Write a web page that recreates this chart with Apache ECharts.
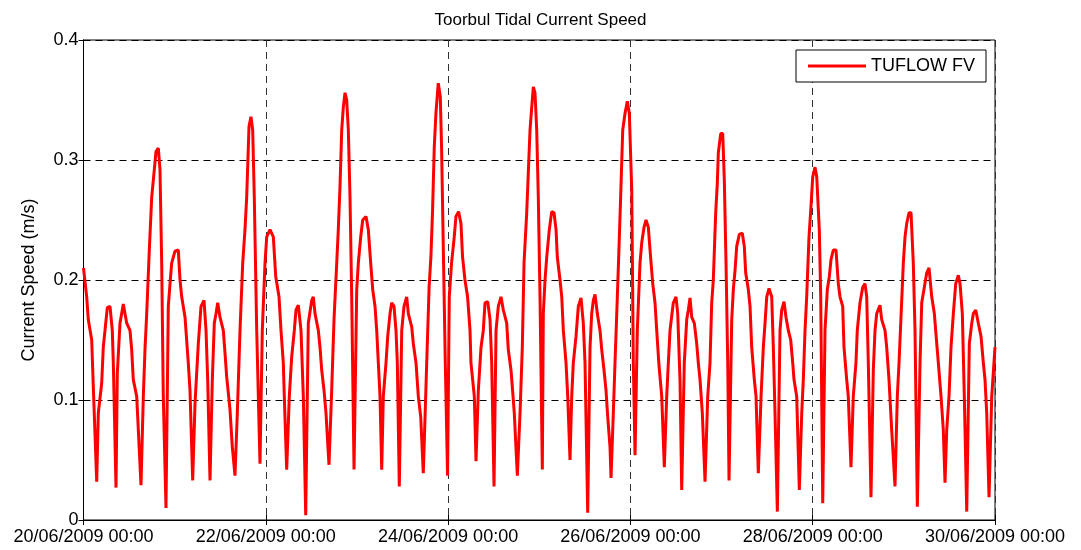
<!DOCTYPE html>
<html>
<head>
<meta charset="utf-8">
<script src="https://cdn.jsdelivr.net/npm/echarts@6/dist/echarts.min.js"></script>
<style>
html,body{margin:0;padding:0;background:#fff;}
#chart{width:1081px;height:550px;}
</style>
</head>
<body>
<div id="chart"></div>
<script>
// Hours since 20/06/2009 00:00
var timeHours = [
0,0.84,1.26,2.16,2.58,3.48,3.90,4.79,5.21,5.66,6.27,6.98,7.58,7.85,8.56,8.90,9.61,10.48,11.38,12.24,12.69,13.11,14.01,15.14,15.75,16.19,16.64,17.33,17.96,18.56,19.09,19.70,20.14,20.59,21.01,21.72,22.33,22.78,23.22,24.09,24.96,25.41,25.86,26.73,27.59,28.04,28.75,29.36,30.23,30.94,31.73,32.26,32.70,33.31,33.92,34.44,34.89,35.34,35.94,36.81,37.26,37.71,38.57,39.18,39.89,40.50,41.21,41.92,42.52,42.97,43.58,44.10,44.55,44.97,45.61,46.47,47.08,47.79,48.24,49.11,49.98,50.61,51.48,52.00,52.61,52.87,53.50,54.19,54.82,55.51,55.95,56.56,57.27,57.88,58.51,59.19,60.09,60.51,60.96,61.83,62.27,62.72,63.33,63.85,64.64,65.35,65.96,66.67,67.09,67.54,67.99,68.41,68.86,69.30,69.73,70.17,70.62,71.23,71.94,72.36,72.99,73.52,74.39,74.99,75.62,76.15,76.76,77.20,77.63,78.07,78.52,78.94,79.65,80.10,80.71,81.15,81.76,82.28,82.63,83.15,83.79,84.39,85.10,85.53,86.42,86.84,87.55,88.16,88.79,89.47,90.37,91.01,91.47,91.91,92.36,92.80,93.41,93.94,94.28,94.81,95.26,95.86,96.31,96.91,97.62,98.07,98.76,99.39,99.81,100.44,101.13,101.77,102.02,102.90,103.35,103.96,104.67,105.27,105.72,106.43,107.04,107.48,108.09,108.62,109.22,109.93,110.54,111.43,111.85,112.56,112.91,113.43,114.23,114.94,115.54,115.99,116.70,117.57,118.02,118.44,118.88,119.33,119.75,120.20,120.81,121.07,121.52,121.97,122.65,123.28,123.89,124.42,124.76,125.47,125.92,126.34,127.05,127.50,128.10,128.55,128.97,129.68,130.29,131.00,131.60,132.05,132.76,133.37,133.81,134.24,134.69,135.29,136.00,136.45,137.05,137.58,138.03,138.63,138.90,139.50,139.95,140.56,141.01,141.46,141.98,142.59,143.19,143.72,144.35,144.77,145.22,145.82,146.53,146.98,147.59,148.11,148.72,149.17,149.88,150.48,150.93,151.50,152.25,152.93,153.56,153.99,154.43,155.30,156.01,156.46,157.06,157.51,158.19,158.83,159.25,159.70,160.14,160.83,161.46,161.88,162.33,162.94,163.65,164.36,164.96,165.41,165.83,166.46,166.89,167.15,167.78,168.31,168.73,169.18,169.63,169.97,170.68,171.10,171.55,171.99,172.68,173.47,173.99,174.36,175.05,175.50,175.94,176.63,177.08,177.68,178.40,179.00,179.45,179.90,180.50,181.21,181.63,182.08,182.69,183.39,183.84,184.45,184.97,185.58,186.21,186.74,187.08,187.79,188.48,189.11,189.53,189.98,190.42,191.03,191.48,192.01,192.61,193.06,193.74,194.11,194.64,195.24,195.85,196.38,196.82,197.43,198.14,198.74,199.19,199.90,200.24,200.95,201.37,202.08,202.69,203.39,203.74,204.45,205.17,205.77,206.22,206.64,207.35,207.96,208.41,208.85,209.72,210.17,211.04,211.48,212.09,212.80,213.67,214.28,214.73,215.25,215.86,216.31,216.75,217.36,217.89,218.49,218.94,219.55,220.26,220.71,221.39,222.03,222.63,223.34,224.03,224.66,225.08,225.79,226.39,226.84,227.29,227.89,228.42,229.03,229.66,230.34,230.79,231.40,231.92,232.56,233.24,233.88,234.30,234.93,235.61,236.32,236.93,237.37,237.82,238.43,239.14,240.00
];
// Current speed (m/s)
var speed = [
0.210,0.186,0.167,0.150,0.111,0.032,0.089,0.114,0.144,0.158,0.177,0.178,0.158,0.131,0.027,0.122,0.164,0.180,0.164,0.158,0.142,0.117,0.103,0.029,0.103,0.142,0.172,0.225,0.269,0.289,0.307,0.310,0.292,0.214,0.103,0.010,0.178,0.197,0.214,0.224,0.225,0.200,0.186,0.169,0.131,0.108,0.033,0.097,0.147,0.178,0.183,0.158,0.117,0.033,0.117,0.164,0.172,0.181,0.169,0.158,0.139,0.119,0.092,0.061,0.037,0.089,0.158,0.214,0.242,0.269,0.328,0.336,0.325,0.269,0.158,0.047,0.158,0.214,0.236,0.242,0.236,0.203,0.186,0.158,0.131,0.103,0.042,0.103,0.136,0.158,0.175,0.179,0.158,0.103,0.004,0.164,0.183,0.186,0.172,0.158,0.144,0.125,0.108,0.089,0.046,0.108,0.167,0.214,0.242,0.278,0.325,0.344,0.356,0.350,0.325,0.269,0.186,0.042,0.192,0.214,0.236,0.250,0.253,0.242,0.214,0.192,0.178,0.158,0.131,0.103,0.042,0.103,0.131,0.153,0.172,0.181,0.178,0.158,0.131,0.028,0.158,0.178,0.186,0.172,0.161,0.147,0.131,0.103,0.086,0.039,0.131,0.195,0.219,0.258,0.311,0.339,0.364,0.353,0.311,0.214,0.131,0.037,0.186,0.214,0.236,0.253,0.257,0.247,0.219,0.200,0.186,0.158,0.131,0.103,0.049,0.108,0.144,0.158,0.181,0.182,0.167,0.131,0.028,0.158,0.178,0.186,0.175,0.164,0.142,0.125,0.111,0.089,0.037,0.089,0.144,0.214,0.256,0.325,0.344,0.361,0.356,0.325,0.269,0.186,0.042,0.172,0.200,0.219,0.242,0.257,0.256,0.242,0.219,0.200,0.186,0.158,0.131,0.103,0.050,0.103,0.131,0.153,0.178,0.185,0.164,0.131,0.006,0.144,0.172,0.183,0.188,0.172,0.158,0.142,0.125,0.108,0.086,0.061,0.035,0.089,0.131,0.186,0.228,0.272,0.325,0.339,0.349,0.339,0.275,0.131,0.054,0.158,0.214,0.231,0.244,0.250,0.244,0.225,0.197,0.181,0.158,0.130,0.103,0.044,0.103,0.131,0.158,0.181,0.186,0.172,0.117,0.025,0.131,0.167,0.175,0.185,0.169,0.164,0.147,0.131,0.117,0.089,0.032,0.103,0.131,0.181,0.200,0.256,0.281,0.306,0.322,0.322,0.283,0.214,0.131,0.033,0.167,0.192,0.208,0.228,0.238,0.239,0.228,0.206,0.192,0.178,0.144,0.117,0.103,0.039,0.103,0.144,0.164,0.186,0.193,0.186,0.144,0.089,0.007,0.158,0.175,0.182,0.169,0.158,0.150,0.131,0.117,0.103,0.025,0.089,0.117,0.158,0.186,0.236,0.258,0.286,0.294,0.286,0.242,0.186,0.014,0.158,0.192,0.203,0.217,0.225,0.225,0.197,0.186,0.178,0.144,0.117,0.103,0.044,0.103,0.131,0.158,0.181,0.194,0.197,0.186,0.131,0.019,0.125,0.158,0.172,0.179,0.167,0.158,0.144,0.117,0.075,0.028,0.103,0.131,0.169,0.214,0.236,0.247,0.256,0.256,0.214,0.158,0.011,0.131,0.181,0.194,0.206,0.210,0.186,0.172,0.147,0.131,0.103,0.075,0.031,0.075,0.103,0.144,0.172,0.197,0.204,0.197,0.172,0.103,0.007,0.147,0.164,0.172,0.175,0.164,0.153,0.131,0.117,0.089,0.019,0.103,0.144
];
var xTickLabels = ['20/06/2009 00:00','22/06/2009 00:00','24/06/2009 00:00','26/06/2009 00:00','28/06/2009 00:00','30/06/2009 00:00'];
var yTickLabels = ['0','0.1','0.2','0.3','0.4'];

var seriesData = timeHours.map(function(t, i){ return [t, speed[i]]; });
var FONT = "'Liberation Sans', Arial, sans-serif";
var chart = echarts.init(document.getElementById('chart'), null, {renderer:'canvas'});
chart.setOption({
  backgroundColor: '#fff',
  animation: false,
  title: {
    text: 'Toorbul Tidal Current Speed',
    left: 'center', top: 7,
    textStyle: {fontFamily: FONT, fontSize: 17, fontWeight: 'normal', color: '#000'}
  },
  legend: {
    right: 95, top: 50,
    orient: 'horizontal',
    backgroundColor: '#fff',
    borderColor: '#000', borderWidth: 1,
    padding: [7, 11, 7, 12],
    itemWidth: 58, itemHeight: 3,
    icon: 'rect',
    textStyle: {fontFamily: FONT, fontSize: 18, color: '#000'},
    data: ['TUFLOW FV']
  },
  grid: {left: 83.5, top: 40, width: 911.5, height: 480, show: true, borderColor: '#000', borderWidth: 1, containLabel: false},
  xAxis: [{
    type: 'value', min: 0, max: 240, interval: 48,
    axisLine: {show: true, lineStyle: {color: '#000', width: 1}},
    axisTick: {show: true, inside: true, length: 5, lineStyle: {color: '#000'}},
    axisLabel: {
      margin: 8, color: '#000', fontFamily: FONT, fontSize: 18,
      formatter: function(v){ return xTickLabels[Math.round(v/48)] || ''; }
    },
    splitLine: {show: true, lineStyle: {color: '#333', type: [7, 5], width: 1}}
  },{
    type: 'value', min: 0, max: 240, interval: 48, position: 'top',
    axisLine: {show: true, lineStyle: {color: '#000'}},
    axisTick: {show: true, inside: true, length: 5, lineStyle: {color: '#000'}},
    axisLabel: {show: false}, splitLine: {show: false}
  }],
  yAxis: [{
    type: 'value', min: 0, max: 0.4, interval: 0.1,
    name: 'Current Speed (m/s)', nameLocation: 'middle', nameGap: 45,
    nameTextStyle: {fontFamily: FONT, fontSize: 18, color: '#000'},
    axisLine: {show: true, lineStyle: {color: '#000', width: 1}},
    axisTick: {show: true, inside: true, length: 5, lineStyle: {color: '#000'}},
    axisLabel: {
      margin: 5, color: '#000', fontFamily: FONT, fontSize: 18,
      formatter: function(v){ return yTickLabels[Math.round(v*10)]; }
    },
    splitLine: {show: true, lineStyle: {color: '#000', type: [7, 5], width: 1}}
  },{
    type: 'value', min: 0, max: 0.4, interval: 0.1, position: 'right',
    axisLine: {show: true, lineStyle: {color: '#000'}},
    axisTick: {show: true, inside: true, length: 5, lineStyle: {color: '#000'}},
    axisLabel: {show: false}, splitLine: {show: false}
  }],
  series: [{
    name: 'TUFLOW FV',
    type: 'line',
    xAxisIndex: 0, yAxisIndex: 0,
    data: seriesData,
    showSymbol: false, symbol: 'none',
    lineStyle: {color: '#ff0000', width: 3},
    itemStyle: {color: '#ff0000'},
    z: 3
  }]
});
</script>
</body>
</html>
